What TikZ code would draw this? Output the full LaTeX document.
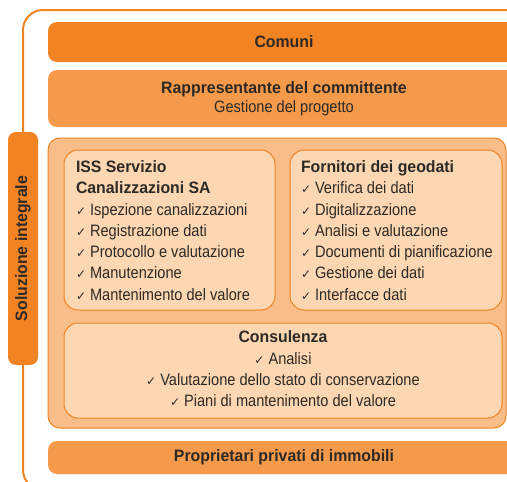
\documentclass[tikz,border=0pt]{standalone}
\usepackage{fontspec}
\setmainfont{Liberation Sans}[FakeStretch=0.885]
\newfontfamily\headfont{Liberation Sans}[FakeStretch=0.96]
\newfontfamily\symfont{DejaVu Sans}
\usetikzlibrary{positioning}

\definecolor{darkorange}{HTML}{F28322}
\definecolor{midorange}{HTML}{F59A4A}
\definecolor{lightorange}{HTML}{F9BD8A}
\definecolor{paleorange}{HTML}{FDD7B2}
\definecolor{ink}{HTML}{2D2926}

\newcommand{\chk}{{\symfont\bfseries\fontsize{12}{10}\selectfont ✓}\hspace{4pt}}
\newcommand{\hd}[1]{{\headfont\bfseries #1}}

\begin{document}
\begin{tikzpicture}[x=1pt, y=-1pt, inner sep=0pt, outer sep=0pt,
    every node/.style={text=ink, font=\fontsize{16.5}{21.3}\selectfont},
    bar/.style={anchor=north west, rounded corners=9pt, minimum width=472pt, align=center},
    frame/.style={anchor=north west, rounded corners=14pt, draw=darkorange, line width=1pt},
    list/.style={align=left},
    headfont/.style={font=\headfont\bfseries\fontsize{16.5}{19}\selectfont} ]

                \useasboundingbox (0,0) rectangle (507,482);

                % outer bracket
                \draw[darkorange, line width=2pt, rounded corners=20pt] (520,10) -- (23,10) -- (23,490) -- (120,490);

                \node (integrale) [headfont, fill=darkorange, rounded corners=8pt, rotate=90, minimum width=233pt, minimum height=30pt] at (23,248.5) {Soluzione integrale};

                \node (comuni) [bar, headfont, fill=darkorange, minimum height=40pt] at (48,22) {Comuni};
                \node (committente) [bar, fill=midorange, minimum height=57pt, font=\fontsize{16.5}{18.5}\selectfont] at (48,70) {\hd{Rappresentante del committente}\\Gestione del progetto};
                \node (proprietari) [bar, headfont, fill=midorange, minimum height=33pt] at (48,441) {Proprietari privati di immobili};

                \node (soluzione) [frame, fill=lightorange, rounded corners=12pt, minimum width=458pt, minimum height=290pt] at (48,138) {};
                \node (iss) [frame, fill=paleorange, minimum width=211pt, minimum height=160pt] at (64,150) {};
                \node (fornitori) [frame, fill=paleorange, minimum width=212pt, minimum height=160pt] at (290,150) {};
                \node (consulenza) [frame, fill=paleorange, minimum width=438pt, minimum height=95pt] at (64,323) {};

                \node (isstext) [list, below right=10.5pt and 12pt of iss.north west] {\hd{ISS Servizio}\\\hd{Canalizzazioni SA}\\\chk Ispezione canalizzazioni\\\chk Registrazione dati\\\chk Protocollo e valutazione\\\chk Manutenzione\\\chk Mantenimento del valore};
                \node (fornitoritext) [list, below right=10.5pt and 11pt of fornitori.north west] {\hd{Fornitori dei geodati}\\\chk Verifica dei dati\\\chk Digitalizzazione\\\chk Analisi e valutazione\\\chk Documenti di pianificazione\\\chk Gestione dei dati\\\chk Interfacce dati};
                \node (consulenzatext) [align=center, below=8pt of consulenza.north] {\hd{Consulenza}\\\chk Analisi\\\chk Valutazione dello stato di conservazione\\\chk Piani di mantenimento del valore};
\end{tikzpicture}
\end{document}
